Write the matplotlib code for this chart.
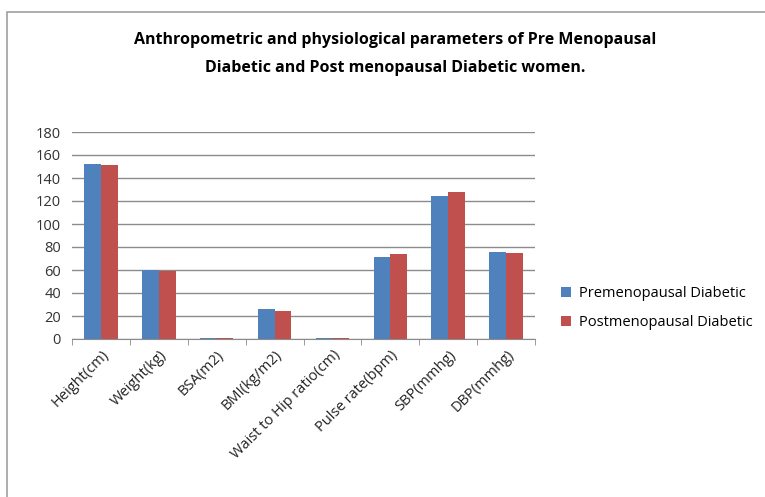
import matplotlib.pyplot as plt
import numpy as np
from matplotlib.patches import Rectangle

categories = ["Height(cm)", "Weight(kg)", "BSA(m2)", "BMI(kg/m2)",
              "Waist to Hip ratio(cm)", "Pulse rate(bpm)", "SBP(mmhg)", "DBP(mmhg)"]
pre_diabetic = [152.5, 60, 1.2, 25.8, 0.8, 71.6, 124.5, 76]
post_diabetic = [151.6, 59, 1.2, 24.4, 0.8, 73.7, 127.8, 75.2]
series_names = ["Premenopausal Diabetic", "Postmenopausal Diabetic"]

blue = "#4f81bd"
red = "#c0504d"

plt.rcParams['font.family'] = ['Open Sans', 'DejaVu Sans']

fig = plt.figure(figsize=(7.65, 4.97), dpi=100)
fig.patches.append(Rectangle((7/765, -0.01), 1.0, 1 - 12/497 + 0.01,
                             transform=fig.transFigure, fill=False,
                             edgecolor="#a0a0a0", linewidth=1.2))

ax = fig.add_axes([72/765, 1 - 339/497, (535 - 72)/765, (339 - 132)/497])

x = np.arange(len(categories))
w = 0.29
ax.bar(x - w/2, pre_diabetic, w, color=blue, label=series_names[0])
ax.bar(x + w/2, post_diabetic, w, color=red, label=series_names[1])

ax.set_xlim(-0.5, len(categories) - 0.5)
ax.set_ylim(0, 180)
ax.set_yticks(np.arange(0, 181, 20))
ax.yaxis.grid(True, color="#8c8c8c", linewidth=1)
ax.set_axisbelow(True)

ax.set_xticks(x)
ax.set_xticklabels(categories, rotation=45, ha="right", rotation_mode="anchor",
                   fontsize=10.5, color="#222222")
ax.tick_params(axis="x", length=0, pad=6)
ax.set_xticks(np.arange(-0.5, len(categories)), minor=True)
ax.tick_params(axis="x", which="minor", length=4, color="#8c8c8c")
ax.tick_params(axis="y", length=0, labelsize=10.5, pad=8)
for lbl in ax.get_yticklabels():
    lbl.set_color("#333333")

for s in ["top", "right", "left"]:
    ax.spines[s].set_visible(False)
ax.spines["bottom"].set_color("#8c8c8c")
ax.spines["bottom"].set_zorder(5)

fig.text(395/765, 1 - 40/497, "Anthropometric and physiological parameters of Pre Menopausal",
         ha="center", va="center", fontsize=11.5, fontweight="bold")
fig.text(395/765, 1 - 68/497, "Diabetic and Post menopausal Diabetic women.",
         ha="center", va="center", fontsize=11.5, fontweight="bold")

ax.legend(loc="center left", bbox_to_anchor=(548/765, 1 - 308/497),
          bbox_transform=fig.transFigure, frameon=False, fontsize=10.5,
          handlelength=0.7, handleheight=0.7, handletextpad=0.5, labelspacing=1.0)

fig.savefig("out.png", dpi=100)
